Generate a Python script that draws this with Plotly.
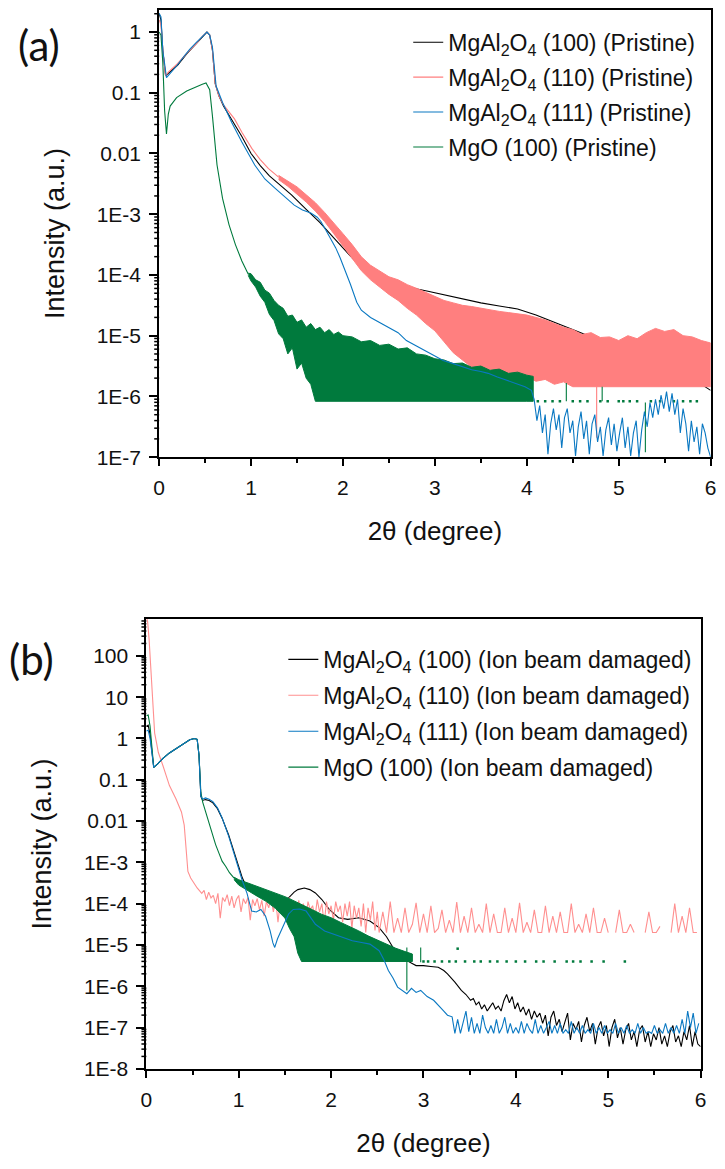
import numpy as np
import plotly.graph_objects as go

# ---------------- data: panel (a) pristine (values are log10 intensity) ----------------
a_black_x = [0.0,0.02,0.04,0.07,0.1,0.2,0.3,0.4,0.47,0.52,0.55,0.58,0.61,0.65,0.7,0.8,0.9,1.0,1.1,1.2,1.3,1.44,1.6,1.75,1.9,2.0,2.1,2.2,2.3,2.5,2.7,2.9,3.1,3.3,3.5,3.7,3.9,4.1,4.5,5.0,5.5,5.8,6.0]
a_black_log = [0.30,0.2,-0.3,-0.72,-0.68,-0.55,-0.36,-0.2,-0.07,0.0,-0.05,-0.3,-0.85,-1.05,-1.22,-1.47,-1.72,-2.0,-2.2,-2.37,-2.5,-2.68,-2.92,-3.14,-3.39,-3.55,-3.72,-3.86,-3.97,-4.12,-4.2,-4.26,-4.33,-4.4,-4.46,-4.51,-4.56,-4.66,-4.9,-5.2,-5.5,-5.7,-5.9]

a_pink_x = [0.0,0.02,0.04,0.07,0.1,0.2,0.3,0.4,0.47,0.52,0.55,0.58,0.61,0.65,0.7,0.82,0.9,1.01,1.1,1.19,1.3]
a_pink_log = [0.2,0.12,-0.3,-0.72,-0.66,-0.52,-0.35,-0.2,-0.07,0.0,-0.05,-0.3,-0.85,-1.05,-1.2,-1.43,-1.65,-1.92,-2.1,-2.25,-2.39]
a_pink_band_x = [1.3,1.4,1.5,1.6,1.7,1.8,1.9,2.0,2.1,2.2,2.3,2.4,2.5,2.6,2.7,2.8,2.9,3.0,3.1,3.2,3.3,3.4,3.5,3.6,3.7,3.8,3.9,4.0,4.1,4.2,4.3,4.4,4.5,4.6,4.7,4.8,4.9,5.0,5.1,5.2,5.3,5.4,5.5,5.6,5.7,5.8,5.9,6.0]
a_pink_upper = [-2.36,-2.45,-2.55,-2.68,-2.81,-2.97,-3.14,-3.32,-3.5,-3.7,-3.84,-3.94,-4.03,-4.08,-4.16,-4.22,-4.29,-4.36,-4.42,-4.46,-4.5,-4.52,-4.55,-4.57,-4.6,-4.62,-4.64,-4.66,-4.7,-4.74,-4.8,-4.86,-4.9,-4.98,-4.95,-5.03,-5.02,-5.08,-5.0,-5.05,-4.95,-4.88,-4.93,-4.9,-5.0,-5.02,-5.08,-5.12]
a_pink_lower = [-2.43,-2.54,-2.67,-2.8,-2.95,-3.12,-3.32,-3.52,-3.72,-3.93,-4.08,-4.2,-4.32,-4.42,-4.55,-4.66,-4.8,-4.92,-5.1,-5.28,-5.4,-5.52,-5.6,-5.55,-5.66,-5.62,-5.7,-5.68,-5.75,-5.72,-5.8,-5.76,-5.84,-5.84,-5.84,-5.84,-5.84,-5.84,-5.84,-5.84,-5.84,-5.84,-5.84,-5.84,-5.84,-5.84,-5.84,-5.84]
a_pink_spike_x = [4.76, 4.76]
a_pink_spike_log = [-5.84, -6.68]

a_blue_x = [0.0,0.02,0.04,0.08,0.12,0.19,0.26,0.33,0.4,0.47,0.52,0.55,0.58,0.62,0.69,0.79,0.9,1.04,1.15,1.26,1.37,1.47,1.56,1.65,1.72,1.76,1.81,1.86,1.92,1.97,2.03,2.08,2.15,2.2,2.3,2.4,2.49,2.6,2.69,2.8,2.89,3.0,3.09,3.2,3.29,3.4,3.5,3.58,3.68,3.78,3.88,3.98,4.05]
a_blue_log = [0.31,0.25,-0.3,-0.75,-0.68,-0.56,-0.42,-0.29,-0.18,-0.07,0.0,-0.05,-0.25,-0.89,-1.16,-1.49,-1.81,-2.19,-2.42,-2.57,-2.72,-2.85,-2.93,-2.98,-3.05,-3.12,-3.25,-3.39,-3.55,-3.72,-3.95,-4.15,-4.45,-4.58,-4.7,-4.78,-4.86,-4.95,-5.08,-5.17,-5.24,-5.33,-5.41,-5.46,-5.51,-5.56,-5.59,-5.62,-5.68,-5.73,-5.78,-5.84,-5.9]
a_blue_tail_start, a_blue_tail_step = 4.08, 0.03
a_blue_tail_log = [-6.05,-6.4,-6.15,-6.6,-6.3,-6.95,-6.45,-6.2,-6.55,-6.3,-6.85,-6.35,-6.2,-6.6,-6.4,-6.98,-6.5,-6.25,-6.7,-6.4,
                   -6.95,-6.45,-6.3,-6.75,-6.5,-6.98,-6.55,-6.35,-6.8,-6.45,-6.9,-6.6,-6.35,-6.85,-6.5,-6.98,-6.6,-6.4,-7.0,-6.55,
                   -6.25,-6.5,-6.1,-6.35,-6.05,-6.3,-5.98,-6.2,-5.92,-6.25,-5.95,-6.3,-6.05,-6.6,-6.2,-6.45,-6.9,-6.4,-6.75,-6.5,
                   -6.95,-6.45,-6.6,-6.85,-7.0]

a_green_x = [0.0,0.02,0.04,0.06,0.08,0.1,0.12,0.19,0.3,0.4,0.47,0.51,0.55,0.58,0.63,0.69,0.76,0.83,0.9,0.97]
a_green_log = [0.0,-0.05,-0.5,-1.3,-1.68,-1.35,-1.22,-1.08,-0.97,-0.9,-0.86,-0.84,-0.95,-1.38,-2.19,-2.74,-3.17,-3.5,-3.77,-3.99]
a_green_band_x = [0.97,1.0,1.05,1.1,1.15,1.2,1.25,1.3,1.35,1.4,1.45,1.5,1.55,1.6,1.65,1.7,1.75,1.8,1.85,1.9,1.95,2.0,2.1,2.2,2.3,2.4,2.5,2.6,2.7,2.8,2.9,3.0,3.1,3.2,3.3,3.4,3.5,3.6,3.7,3.8,3.9,4.0,4.07]
a_green_upper = [-3.97,-3.98,-4.08,-4.12,-4.25,-4.3,-4.42,-4.5,-4.55,-4.68,-4.66,-4.78,-4.74,-4.86,-4.8,-4.9,-4.86,-4.95,-4.9,-4.98,-4.94,-5.0,-5.02,-5.1,-5.08,-5.16,-5.14,-5.22,-5.2,-5.3,-5.32,-5.38,-5.4,-5.46,-5.45,-5.52,-5.5,-5.57,-5.55,-5.62,-5.6,-5.65,-5.67]
a_green_lower = [-4.01,-4.1,-4.2,-4.35,-4.45,-4.65,-4.75,-4.97,-5.05,-5.3,-5.2,-5.55,-5.45,-5.7,-5.8,-6.08,-6.08,-6.08,-6.08,-6.08,-6.08,-6.08,-6.08,-6.08,-6.08,-6.08,-6.08,-6.08,-6.08,-6.08,-6.08,-6.08,-6.08,-6.08,-6.08,-6.08,-6.08,-6.08,-6.08,-6.08,-6.08,-6.08,-6.08]
a_green_dot_x = [4.12,4.2,4.28,4.36,4.5,4.58,4.66,4.8,4.88,5.0,5.05,5.12,5.2,5.35,5.45,5.6,5.7,5.78,5.85]
a_green_dot_log = [-6.08] * len(a_green_dot_x)
a_green_spike_x = [4.43, 4.43, None, 4.82, 4.82, None, 5.29, 5.29]
a_green_spike_log = [-5.78, -6.08, None, -5.84, -6.08, None, -6.1, -6.92]

# ---------------- data: panel (b) ion beam damaged ----------------
b_black_x = [0.0,0.02,0.04,0.06,0.08,0.12,0.18,0.25,0.33,0.4,0.47,0.52,0.55,0.57,0.59,0.61,0.64,0.68,0.72,0.77,0.82,0.89,0.96,1.0,1.04,1.09,1.2,1.3,1.4,1.5,1.54,1.6,1.64,1.71,1.77,1.83,1.9,1.98,2.08,2.18,2.3,2.42,2.52,2.6,2.67,2.75,2.82,2.92,3.0,3.08,3.16,3.22,3.26,3.34,3.41,3.46,3.51]
b_black_log = [0.29,0.32,0.1,-0.4,-0.7,-0.62,-0.48,-0.35,-0.23,-0.12,-0.03,0.0,-0.02,-0.4,-1.4,-1.5,-1.48,-1.5,-1.56,-1.7,-1.93,-2.33,-2.81,-3.13,-3.38,-3.62,-3.8,-3.9,-3.95,-3.9,-3.86,-3.72,-3.66,-3.62,-3.66,-3.74,-3.9,-4.14,-4.34,-4.38,-4.34,-4.42,-4.58,-4.8,-5.06,-5.25,-5.38,-5.5,-5.5,-5.52,-5.54,-5.62,-5.7,-5.9,-6.1,-6.2,-6.34]
b_black_tail_start, b_black_tail_step = 3.54, 0.03
b_black_tail_log = [-6.3,-6.45,-6.38,-6.55,-6.45,-6.6,-6.5,-6.4,-6.55,-6.48,-6.6,-6.35,-6.2,-6.4,-6.25,-6.55,-6.4,-6.62,-6.5,-6.7,
                    -6.55,-6.8,-6.6,-6.75,-6.65,-6.9,-6.7,-7.2,-6.75,-6.6,-6.95,-6.8,-7.1,-6.85,-6.65,-7.3,-6.9,-7.05,-6.85,-7.35,
                    -6.95,-6.75,-7.1,-6.9,-7.4,-7.0,-6.85,-7.2,-6.95,-7.46,-7.0,-6.8,-7.25,-7.0,-7.4,-7.05,-6.9,-7.3,-7.1,-7.46,
                    -7.05,-6.95,-7.35,-7.1,-7.46,-7.15,-7.3,-7.0,-7.4,-7.2,-7.46,-7.1,-6.95,-7.35,-7.2,-7.46,-7.1,-7.3,-6.95,-7.46,
                    -7.1,-7.4,-7.46]

b_pink_x = [0.0,0.014,0.03,0.04,0.06,0.08,0.09,0.11,0.13,0.18,0.25,0.32,0.38,0.41,0.43,0.45,0.48,0.55]
b_pink_log = [2.95,2.83,2.4,1.96,1.17,0.53,0.13,-0.1,-0.34,-0.66,-1.14,-1.46,-1.78,-2.1,-2.6,-3.22,-3.38,-3.62]
b_pink_mid_start, b_pink_mid_step = 0.6, 0.025
b_pink_mid_log = [-3.75,-3.68,-3.9,-3.72,-3.86,-3.8,-4.0,-3.75,-4.35,-3.85,-3.95,-3.78,-4.05,-3.82,-4.1,-3.9,-3.8,-4.2,-3.88,-4.0,
                  -3.85,-4.4,-3.9,-4.05,-3.88,-4.15,-3.92,-4.3,-3.95,-4.1,-3.85,-4.2,-3.9,-4.45,-3.95,-4.15,-3.9,-4.25,-3.85,-4.1,
                  -4.0,-4.3,-3.92,-4.2,-4.0,-4.4,-3.95,-4.15,-4.05,-4.35,-3.9,-4.2,-4.0,-4.5,-3.95,-4.25,-4.05,-4.4,-3.95,-4.2,
                  -4.05,-4.45,-4.0,-4.3,-3.95,-4.6,-4.05,-4.35,-4.1,-4.55,-4.0,-4.7,-4.1,-4.4,-3.95,-4.65,-4.2]
b_pink_tail_start, b_pink_tail_step = 2.52, 0.04
b_pink_tail_log = [-4.7,-4.2,-4.7,-3.95,-4.7,-4.35,-4.7,-4.1,-4.7,-4.5,-3.98,-4.7,-4.25,-4.7,-4.05,-4.7,-4.6,-4.15,-4.7,-4.4,
                   -4.7,-3.96,-4.7,-4.3,-4.7,-4.1,-4.7,-4.5,-4.7,-4.0,-4.7,-4.25,-4.7,-4.7,-4.1,-4.7,-4.35,-4.7,-3.98,-4.7,
                   -4.45,-4.7,-4.15,-4.7,-4.7,-4.05,-4.7,-4.3,-4.7,-4.2,-4.7,-4.7,-4.0,-4.7,-4.5,-4.7,-4.25,-4.7,-4.1,-4.7,
                   -4.7,-4.35,-4.7,None,-4.7,-4.15,-4.7,-4.7,-4.5,-4.7,None,None,-4.7,-4.2,-4.7,-4.7,-4.55,None,None,-4.7,
                   -4.0,-4.7,-4.3,-4.7,-4.1,-4.7,-4.7]

b_blue_x = [0.0,0.02,0.04,0.06,0.08,0.12,0.18,0.25,0.33,0.4,0.47,0.52,0.55,0.57,0.59,0.61,0.64,0.68,0.72,0.77,0.82,0.89,0.96,1.0,1.04,1.09,1.14,1.19,1.24,1.29,1.34,1.37,1.39,1.42,1.49,1.54,1.59,1.66,1.73,1.83,1.93,2.03,2.13,2.23,2.33,2.42,2.52,2.57,2.62,2.67,2.72,2.77,2.82,2.87,2.92,2.97,3.04,3.11,3.16,3.21,3.26,3.31]
b_blue_log = [0.18,0.2,0.0,-0.4,-0.7,-0.62,-0.48,-0.35,-0.23,-0.12,-0.03,0.0,-0.02,-0.4,-1.4,-1.47,-1.44,-1.47,-1.53,-1.68,-1.92,-2.36,-2.86,-3.2,-3.45,-3.75,-4.18,-4.2,-4.14,-4.3,-4.66,-4.95,-5.06,-4.85,-4.5,-4.25,-4.14,-4.13,-4.18,-4.5,-4.66,-4.74,-4.82,-4.9,-4.94,-4.98,-5.14,-5.35,-5.62,-5.8,-6.02,-6.1,-6.18,-6.05,-6.15,-6.1,-6.25,-6.34,-6.45,-6.58,-6.7,-6.74]
b_blue_tail_start, b_blue_tail_step = 3.34, 0.03
b_blue_tail_log = [-7.14,-6.8,-7.14,-6.85,-6.6,-7.1,-6.75,-7.14,-6.9,-7.14,-6.7,-7.0,-7.14,-6.95,-7.14,-6.8,-7.14,-7.0,-6.75,-7.14,
                   -6.9,-7.14,-7.0,-7.14,-6.85,-7.14,-6.9,-7.05,-7.14,-6.8,-7.14,-6.95,-7.14,-7.0,-6.85,-7.14,-6.95,-7.14,-6.9,-7.14,
                   -7.05,-7.14,-6.85,-7.14,-7.0,-7.14,-6.95,-7.14,-7.05,-7.14,-6.9,-7.14,-7.0,-7.14,-6.95,-7.14,-7.05,-7.14,-6.9,-7.14,
                   -7.0,-7.14,-6.95,-7.14,-7.05,-7.14,-6.9,-7.14,-7.0,-7.14,-7.1,-7.14,-6.95,-7.14,-7.05,-7.14,-6.9,-7.14,-7.0,-7.14,
                   -6.95,-7.14,-6.8,-7.14,-6.6,-7.0,-6.65,-7.14,-6.9]

b_green_x = [0.0,0.02,0.04,0.06,0.08,0.12,0.18,0.25,0.33,0.4,0.47,0.52,0.55,0.57,0.59,0.61,0.64,0.68,0.72,0.75,0.79,0.82,0.86,0.9,0.95]
b_green_log = [0.55,0.57,0.3,-0.3,-0.7,-0.62,-0.48,-0.35,-0.23,-0.12,-0.03,0.0,-0.02,-0.4,-1.3,-1.54,-1.75,-2.09,-2.35,-2.57,-2.8,-2.97,-3.1,-3.25,-3.38]
b_green_band_x = [0.95,1.0,1.1,1.2,1.3,1.4,1.5,1.55,1.6,1.64,1.68,1.8,1.9,2.0,2.1,2.2,2.3,2.4,2.5,2.6,2.7,2.8,2.88]
b_green_upper = [-3.36,-3.42,-3.5,-3.58,-3.66,-3.74,-3.83,-3.88,-3.93,-3.98,-4.03,-4.15,-4.26,-4.34,-4.45,-4.55,-4.66,-4.78,-4.88,-4.98,-5.08,-5.16,-5.22]
b_green_lower = [-3.42,-3.55,-3.68,-3.82,-3.95,-4.12,-4.35,-4.6,-4.8,-5.2,-5.4,-5.4,-5.4,-5.4,-5.4,-5.4,-5.4,-5.4,-5.4,-5.4,-5.4,-5.4,-5.4]
b_green_dot_x = [3.0,3.05,3.12,3.2,3.28,3.35,3.37,3.45,3.55,3.62,3.72,3.8,3.9,4.0,4.1,4.22,4.3,4.42,4.55,4.62,4.7,4.82,4.95,5.18]
b_green_dot_log = [-5.4,-5.4,-5.4,-5.4,-5.4,-5.4,-5.09,-5.4,-5.4,-5.4,-5.4,-5.4,-5.4,-5.4,-5.4,-5.4,-5.4,-5.4,-5.4,-5.4,-5.4,-5.4,-5.4,-5.4]
b_green_spike_x = [2.77, 2.77, None, 2.82, 2.82, None, 2.97, 2.97]
b_green_spike_log = [-5.14, -5.4, None, -5.06, -6.1, None, -5.06, -5.42]

names_a = ["MgAl<sub>2</sub>O<sub>4</sub> (100) (Pristine)", "MgAl<sub>2</sub>O<sub>4</sub> (110) (Pristine)",
           "MgAl<sub>2</sub>O<sub>4</sub> (111) (Pristine)", "MgO (100) (Pristine)"]
names_b = ["MgAl<sub>2</sub>O<sub>4</sub> (100) (Ion beam damaged)", "MgAl<sub>2</sub>O<sub>4</sub> (110) (Ion beam damaged)",
           "MgAl<sub>2</sub>O<sub>4</sub> (111) (Ion beam damaged)", "MgO (100) (Ion beam damaged)"]
ytick_a = [1e-7, 1e-6, 1e-5, 1e-4, 1e-3, 0.01, 0.1, 1]
ytext_a = ["1E-7", "1E-6", "1E-5", "1E-4", "1E-3", "0.01", "0.1", "1"]
ytick_b = [1e-8, 1e-7, 1e-6, 1e-5, 1e-4, 1e-3, 0.01, 0.1, 1, 10, 100]
ytext_b = ["1E-8", "1E-7", "1E-6", "1E-5", "1E-4", "1E-3", "0.01", "0.1", "1", "10", "100"]

# ---------------- helpers ----------------
def pw(vals):
    return [None if v is None else 10.0 ** v for v in vals]

def grid(start, step, n):
    return [round(start + step * i, 4) for i in range(n)]

for xs, ys in [(a_black_x, a_black_log), (a_pink_x, a_pink_log), (a_blue_x, a_blue_log), (a_green_x, a_green_log),
               (b_black_x, b_black_log), (b_pink_x, b_pink_log), (b_blue_x, b_blue_log), (b_green_x, b_green_log),
               (a_pink_band_x, a_pink_upper), (a_pink_band_x, a_pink_lower), (a_green_band_x, a_green_upper),
               (a_green_band_x, a_green_lower), (b_green_band_x, b_green_upper), (b_green_band_x, b_green_lower)]:
    assert len(xs) == len(ys), (len(xs), len(ys))

BLACK = "#000000"
PINK_A = "#FF7F7F"
PINK_B = "#FF8F8F"
BLUE = "#0A78C2"
GREEN = "#007A3D"
FONT = "Arial, Liberation Sans, sans-serif"
TXT = "#111111"

fig = go.Figure()

def line(x, logy, color, xa, ya, name=None, legend=None, rank=None, width=1.1):
    fig.add_trace(go.Scatter(x=x, y=pw(logy), mode="lines", line=dict(color=color, width=width),
                             xaxis=xa, yaxis=ya, name=name or "", showlegend=name is not None,
                             legend=legend, legendrank=rank, legendgroup=(legend or "") + str(rank),
                             hoverinfo="skip", connectgaps=False))

def band(x, up, lo, color, xa, ya):
    xs = list(x) + list(x)[::-1]
    ys = list(up) + list(lo)[::-1]
    fig.add_trace(go.Scatter(x=xs, y=pw(ys), mode="lines", fill="toself", fillcolor=color,
                             line=dict(color=color, width=1), xaxis=xa, yaxis=ya, showlegend=False,
                             hoverinfo="skip"))

def dots(x, logy, color, xa, ya):
    fig.add_trace(go.Scatter(x=x, y=pw(logy), mode="markers", marker=dict(color=color, size=2.5, symbol="square"),
                             xaxis=xa, yaxis=ya, showlegend=False, hoverinfo="skip"))

# ---- panel (a) ----
line(a_black_x, a_black_log, BLACK, "x", "y", names_a[0], "legend", 1)
line(a_pink_x, a_pink_log, PINK_A, "x", "y", names_a[1], "legend", 2)
band(a_pink_band_x, a_pink_upper, a_pink_lower, PINK_A, "x", "y")
line(a_pink_spike_x, a_pink_spike_log, PINK_A, "x", "y")
line(a_green_x, a_green_log, GREEN, "x", "y", names_a[3], "legend", 4)
band(a_green_band_x, a_green_upper, a_green_lower, GREEN, "x", "y")
dots(a_green_dot_x, a_green_dot_log, GREEN, "x", "y")
line(a_green_spike_x, a_green_spike_log, GREEN, "x", "y")
a_blue_all_x = a_blue_x + grid(a_blue_tail_start, a_blue_tail_step, len(a_blue_tail_log))
line(a_blue_all_x, a_blue_log + a_blue_tail_log, BLUE, "x", "y", names_a[2], "legend", 3)

# ---- panel (b) ----
b_black_all_x = b_black_x + grid(b_black_tail_start, b_black_tail_step, len(b_black_tail_log))
line(b_black_all_x, b_black_log + b_black_tail_log, BLACK, "x2", "y2", names_b[0], "legend2", 1)
b_pink_all_x = b_pink_x + grid(b_pink_mid_start, b_pink_mid_step, len(b_pink_mid_log)) \
    + grid(b_pink_tail_start, b_pink_tail_step, len(b_pink_tail_log))
line(b_pink_all_x, b_pink_log + b_pink_mid_log + b_pink_tail_log, PINK_B, "x2", "y2", names_b[1], "legend2", 2)
line(b_green_x, b_green_log, GREEN, "x2", "y2", names_b[3], "legend2", 4)
band(b_green_band_x, b_green_upper, b_green_lower, GREEN, "x2", "y2")
dots(b_green_dot_x, b_green_dot_log, GREEN, "x2", "y2")
line(b_green_spike_x, b_green_spike_log, GREEN, "x2", "y2")
b_blue_all_x = b_blue_x + grid(b_blue_tail_start, b_blue_tail_step, len(b_blue_tail_log))
line(b_blue_all_x, b_blue_log + b_blue_tail_log, BLUE, "x2", "y2", names_b[2], "legend2", 3)

W, H = 725, 1169
AX_A = dict(left=155.7, right=716.5, top=10.0, bottom=461.5, rng=[-7, 0.364])
AX_B = dict(left=142.7, right=706.3, top=625.0, bottom=1079.0, rng=[-8, 2.89])
AXLW = 1.8

# minor (2..9 x decade) tick marks of the log axes: placed with the axis' own log mapping
def minor_ticks(ax, length=5):
    r0, r1 = ax["rng"]
    out = []
    for e in range(int(np.floor(r0)), int(np.ceil(r1)) + 1):
        for m in range(2, 10):
            lv = np.log10(m) + e
            if r0 < lv < r1:
                ypx = ax["top"] + (r1 - lv) / (r1 - r0) * (ax["bottom"] - ax["top"])
                yp = 1 - ypx / H
                out.append(dict(type="line", xref="paper", yref="paper", x0=(ax["left"] - length) / W,
                                x1=ax["left"] / W, y0=yp, y1=yp, line=dict(color="black", width=1.5)))
    return out

shapes = minor_ticks(AX_A) + minor_ticks(AX_B)

def xax(ax, anchor):
    return dict(domain=[ax["left"] / W, ax["right"] / W], anchor=anchor, range=[0, 6], tick0=0, dtick=1,
                showline=True, linecolor="black", linewidth=AXLW, mirror=True, ticks="outside", ticklen=7,
                tickwidth=1.6, tickcolor="black",
                minor=dict(dtick=0.5, ticks="outside", ticklen=4, tickwidth=1.6, tickcolor="black"),
                showgrid=False, zeroline=False, tickfont=dict(family=FONT, size=21, color=TXT),
                ticklabelstandoff=4,
                title=dict(text="2θ (degree)", font=dict(family=FONT, size=26, color=TXT), standoff=24))

def yax(ax, anchor, tv, tt):
    return dict(domain=[1 - ax["bottom"] / H, 1 - ax["top"] / H], anchor=anchor, type="log", range=ax["rng"],
                tickmode="array", tickvals=tv, ticktext=tt,
                showline=True, linecolor="black", linewidth=AXLW, mirror=True, ticks="outside", ticklen=8,
                tickwidth=1.6, tickcolor="black", ticklabelstandoff=4,
                showgrid=False, zeroline=False, tickfont=dict(family=FONT, size=21, color=TXT),
                title=dict(text="Intensity (a.u.)", font=dict(family=FONT, size=27, color=TXT), standoff=24))

legend_font = dict(family=FONT, size=23, color=TXT)
fig.update_layout(
    width=W, height=H, margin=dict(l=0, r=0, t=0, b=0), paper_bgcolor="white", plot_bgcolor="white",
    xaxis=xax(AX_A, "y"),
    yaxis=yax(AX_A, "x", ytick_a, ytext_a),
    xaxis2=xax(AX_B, "y2"),
    yaxis2=yax(AX_B, "x2", ytick_b, ytext_b),
    legend=dict(x=409 / W, y=1 - 21 / H, xanchor="left", yanchor="top", bgcolor="rgba(0,0,0,0)",
                font=legend_font, tracegroupgap=2, traceorder="grouped"),
    legend2=dict(x=282 / W, y=1 - 644 / H, xanchor="left", yanchor="top", bgcolor="rgba(0,0,0,0)",
                 font=legend_font, tracegroupgap=3, traceorder="grouped"),
    shapes=shapes,
    annotations=[
        dict(text="(a)", x=34 / W, y=1 - 45 / H, xref="paper", yref="paper", showarrow=False,
             xanchor="center", yanchor="middle", font=dict(family="Lato", size=42, color=TXT)),
        dict(text="(b)", x=26 / W, y=1 - 665 / H, xref="paper", yref="paper", showarrow=False,
             xanchor="center", yanchor="middle", font=dict(family="Lato", size=42, color=TXT)),
    ],
)

fig.write_html("out.html")
